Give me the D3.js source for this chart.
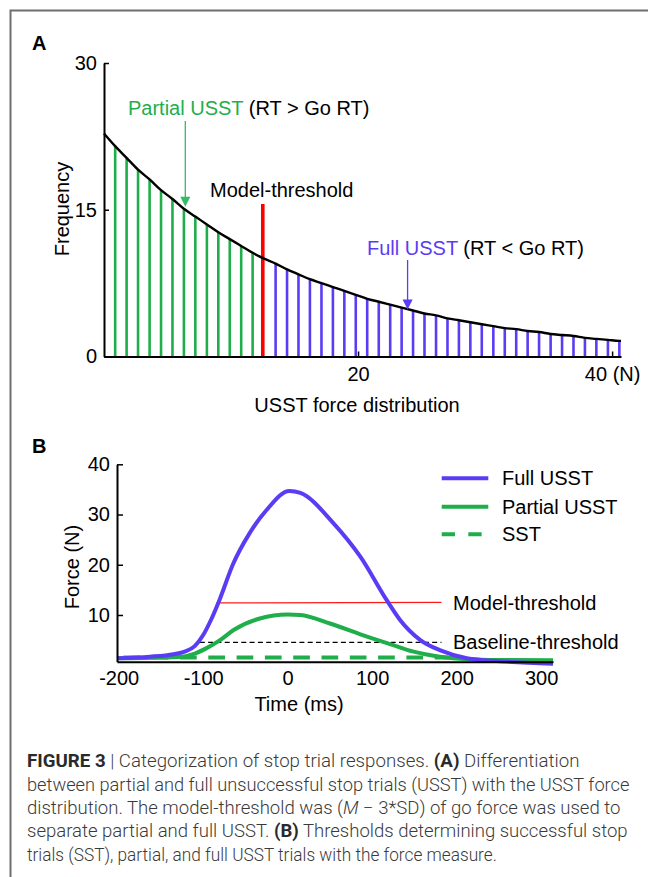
<!DOCTYPE html>
<html>
<head>
<meta charset="utf-8">
<script src="https://cdn.jsdelivr.net/npm/d3@7"></script>
<style>
  html, body { margin: 0; padding: 0; background: #fff; }
  svg text { font-family: "Liberation Sans", Arial, Helvetica, sans-serif; }
</style>
</head>
<body>
<svg id="fig" width="648" height="877"></svg>
<script>
// ---------- Panel A: USST force distribution ----------
const binForce = [0.88, 1.78, 2.68, 3.59, 4.49, 5.39, 6.29, 7.19, 8.10, 9.00, 9.90, 10.80, 11.70,
  13.51, 14.41, 15.31, 16.21, 17.12, 18.02, 18.92, 19.82, 20.72, 21.63, 22.53, 23.43, 24.33,
  25.23, 26.14, 27.04, 27.94, 28.84, 29.74, 30.65, 31.55, 32.45, 33.35, 34.25, 35.16, 36.06,
  36.96, 37.86, 38.76, 39.67, 40.57];
const binFreq = [21.5, 20.3, 19.1, 18.1, 17.0, 16.1, 15.1, 14.3, 13.5, 12.7, 12.0, 11.3, 10.6,
  9.5, 8.9, 8.4, 7.9, 7.5, 7.1, 6.7, 6.3, 5.9, 5.6, 5.3, 5.0, 4.7, 4.4, 4.2, 3.9, 3.7, 3.5,
  3.3, 3.1, 2.9, 2.8, 2.6, 2.5, 2.3, 2.2, 2.1, 1.9, 1.8, 1.7, 1.6];
const curveStart = [0, 22.8];
const curveAtThreshold = [12.6, 10.0];
const curveEnd = [40.7, 1.6];
const modelThresholdForce = 12.5;
const modelThresholdMarkTop = 15.6;
const freqTicks = [0, 15, 30];
const forceTicks = [20, 40];
const forceTickLabels = ["20", "40 (N)"];
const partialArrow = { force: 6.4, freq: 15.3 };
const fullArrow = { force: 23.9, freq: 4.8 };

// ---------- Panel B: force traces ----------
const fullTime  = [-202, -163, -135, -122, -110, -100, -90, -80, -65, -45, -25, 2, 15, 54, 86, 117, 133, 157, 180, 212, 251, 314];
const fullForce = [1.4, 1.7, 2.2, 2.7, 3.8, 6.0, 9.3, 13.3, 20.0, 26.3, 30.9, 34.7, 34.3, 28.3, 21.6, 13.0, 9.0, 5.0, 3.0, 1.4, 0.8, 0.3];
const partialTime  = [-202, -160, -125, -110, -96, -80, -64, -33, 0, 15, 50, 94, 125, 149, 180, 212, 250, 314];
const partialForce = [1.4, 1.5, 1.7, 2.3, 3.4, 5.0, 7.0, 9.3, 10.1, 10.0, 8.3, 5.7, 4.0, 2.7, 1.7, 1.2, 1.05, 1.0];
const sstTime = [-202, 190];
const sstForce = [1.55, 1.55];
const modelThrTime = [-84, 182];
const modelThrForce = [12.4, 12.5];
const baseThrTime = [-104, 182];
const baseThrForce = [4.56, 4.56];
const timeTicks = [-200, -100, 0, 100, 200, 300];
const forceTicksB = [10, 20, 30, 40];
const legendItems = ["Full USST", "Partial USST", "SST"];

const captionLines = [
  [["FIGURE 3", "b"], [" | Categorization of stop trial responses. ", ""], ["(A)", "b"], [" Differentiation", ""]],
  [["between partial and full unsuccessful stop trials (USST) with the USST force", ""]],
  [["distribution. The model-threshold was (", ""], ["M", "i"], [" \u2212 3*SD) of go force was used to", ""]],
  [["separate partial and full USST. ", ""], ["(B)", "b"], [" Thresholds determining successful stop", ""]],
  [["trials (SST), partial, and full USST trials with the force measure.", ""]]
];
const captionRight = [580, 630, 621, 628, 497];

const GREEN = "#1fae4a";
const BLUE = "#5a3cf4";
const RED = "#ff1a1a";

const svg = d3.select("#fig");

// frame
svg.append("path").attr("d", "M10.5,877V10.5H648")
  .attr("fill", "none").attr("stroke", "#6e6e6e").attr("stroke-width", 2);

// ===== Panel A =====
const xA = d3.scaleLinear().domain([0, 40.7]).range([104, 621]);
const yA = d3.scaleLinear().domain([0, 30]).range([356.5, 63]);
const gA = svg.append("g");

gA.append("text").attr("x", 32).attr("y", 50).attr("font-size", 20).attr("font-weight", "bold").text("A");

// bars
gA.selectAll("line.bin").data(binForce.map((f, i) => ({ f, v: binFreq[i] })))
  .join("line").attr("class", "bin")
  .attr("x1", d => xA(d.f)).attr("x2", d => xA(d.f))
  .attr("y1", yA(0)).attr("y2", d => yA(d.v))
  .attr("stroke", d => d.f < modelThresholdForce ? GREEN : BLUE)
  .attr("stroke-width", 2.6);

// threshold marker
gA.append("line")
  .attr("x1", xA(modelThresholdForce)).attr("x2", xA(modelThresholdForce))
  .attr("y1", yA(0)).attr("y2", yA(modelThresholdMarkTop))
  .attr("stroke", "#ff0000").attr("stroke-width", 3.6);

// distribution curve
const curvePts = [curveStart].concat(
  binForce.map((f, i) => [f, binFreq[i]]).filter(p => p[0] < curveAtThreshold[0]),
  [curveAtThreshold],
  binForce.map((f, i) => [f, binFreq[i]]).filter(p => p[0] > curveAtThreshold[0]),
  [curveEnd]);
gA.append("path").datum(curvePts)
  .attr("d", d3.line().x(d => xA(d[0])).y(d => yA(d[1])).curve(d3.curveMonotoneX))
  .attr("fill", "none").attr("stroke", "#000").attr("stroke-width", 2.4);

// axes
const axA_y = gA.append("g").attr("transform", `translate(${xA(0)},0)`)
  .call(d3.axisLeft(yA).tickValues(freqTicks).tickSizeInner(-5).tickSizeOuter(0).tickPadding(7));
const axA_x = gA.append("g").attr("transform", `translate(0,${yA(0)})`)
  .call(d3.axisBottom(xA).tickValues(forceTicks).tickFormat((d, i) => forceTickLabels[i])
    .tickSizeInner(-5).tickSizeOuter(0).tickPadding(10));
[axA_y, axA_x].forEach(a => {
  a.select(".domain").attr("stroke", "#000").attr("stroke-width", 2);
  a.selectAll(".tick line").attr("stroke", "#000").attr("stroke-width", 1.5);
  a.selectAll(".tick text").attr("font-size", 20).attr("fill", "#000")
    .attr("font-family", "'Liberation Sans', Arial, sans-serif");
});

gA.append("text").attr("transform", "translate(69,209) rotate(-90)")
  .attr("text-anchor", "middle").attr("font-size", 20).text("Frequency");
gA.append("text").attr("x", 357).attr("y", 412)
  .attr("text-anchor", "middle").attr("font-size", 20).text("USST force distribution");

// annotations
const tP = gA.append("text").attr("x", 128).attr("y", 115).attr("font-size", 20);
tP.append("tspan").attr("fill", GREEN).text("Partial USST");
tP.append("tspan").attr("fill", "#000").text(" (RT > Go RT)");
const tF = gA.append("text").attr("x", 367).attr("y", 255).attr("font-size", 20);
tF.append("tspan").attr("fill", BLUE).text("Full USST");
tF.append("tspan").attr("fill", "#000").text(" (RT < Go RT)");
gA.append("text").attr("x", 210).attr("y", 197).attr("font-size", 20).text("Model-threshold");

function arrow(g, x, yTail, yTip, color) {
  g.append("line").attr("x1", x).attr("x2", x).attr("y1", yTail).attr("y2", yTip - 8)
    .attr("stroke", color).attr("stroke-width", 1.3);
  g.append("path").attr("d", `M${x - 5},${yTip - 10}L${x + 5},${yTip - 10}L${x},${yTip}Z`).attr("fill", color);
}
arrow(gA, xA(partialArrow.force), 121, yA(partialArrow.freq), "#33bb66");
arrow(gA, xA(fullArrow.force), 260, yA(fullArrow.freq), BLUE);

// ===== Panel B =====
const xB = d3.scaleLinear().domain([-202, 314]).range([117, 553]);
const yB = d3.scaleLinear().domain([0.7, 40]).range([661.7, 464.3]);
const gB = svg.append("g");
gB.append("text").attr("x", 32).attr("y", 453).attr("font-size", 20).attr("font-weight", "bold").text("B");

const lineB = d3.line().x(d => xB(d[0])).y(d => yB(d[1]));
const zip = (a, b) => a.map((v, i) => [v, b[i]]);

// thresholds
gB.append("path").datum(zip(modelThrTime, modelThrForce)).attr("d", lineB)
  .attr("stroke", RED).attr("stroke-width", 1.3).attr("fill", "none");
gB.append("path").datum(zip(baseThrTime, baseThrForce)).attr("d", lineB)
  .attr("stroke", "#000").attr("stroke-width", 1.3).attr("stroke-dasharray", "5 3.3").attr("fill", "none");

// SST dashed trace
gB.append("path").datum(zip(sstTime, sstForce)).attr("d", lineB)
  .attr("stroke", GREEN).attr("stroke-width", 4).attr("stroke-dasharray", "16.7 11.6")
  .attr("stroke-dashoffset", 21.9).attr("fill", "none");

// force traces
const smooth = d3.line().x(d => xB(d[0])).y(d => yB(d[1])).curve(d3.curveMonotoneX);
gB.append("path").datum(zip(partialTime, partialForce)).attr("d", smooth)
  .attr("stroke", GREEN).attr("stroke-width", 4).attr("fill", "none").attr("stroke-linecap", "butt");
gB.append("path").datum(zip(fullTime, fullForce)).attr("d", smooth)
  .attr("stroke", BLUE).attr("stroke-width", 4).attr("fill", "none");

// axes
const axB_y = gB.append("g").attr("transform", `translate(${xB.range()[0]},0)`)
  .call(d3.axisLeft(yB).tickValues(forceTicksB).tickSizeInner(-6).tickSizeOuter(0).tickPadding(7));
const axB_x = gB.append("g").attr("transform", `translate(0,${yB.range()[0]})`)
  .call(d3.axisBottom(xB).tickValues(timeTicks).tickFormat(d => String(d))
    .tickSizeInner(0).tickSizeOuter(0).tickPadding(9));
[axB_y, axB_x].forEach(a => {
  a.select(".domain").attr("stroke", "#000").attr("stroke-width", 2);
  a.selectAll(".tick line").attr("stroke", "#000").attr("stroke-width", 1.5);
  a.selectAll(".tick text").attr("font-size", 20).attr("fill", "#000")
    .attr("font-family", "'Liberation Sans', Arial, sans-serif");
});

gB.append("text").attr("transform", "translate(79,567) rotate(-90)")
  .attr("text-anchor", "middle").attr("font-size", 20).text("Force (N)");
gB.append("text").attr("x", 299).attr("y", 711)
  .attr("text-anchor", "middle").attr("font-size", 20).text("Time (ms)");

gB.append("text").attr("x", 453).attr("y", 610).attr("font-size", 20).text("Model-threshold");
gB.append("text").attr("x", 453).attr("y", 649).attr("font-size", 20).text("Baseline-threshold");

// legend
const legY = [478.3, 506.7, 534.3];
const legStyles = [
  { c: BLUE, dash: null },
  { c: GREEN, dash: null },
  { c: GREEN, dash: "13.3 13.3" }
];
legendItems.forEach((name, i) => {
  const ln = gB.append("line").attr("x1", 441.7).attr("x2", 488.3).attr("y1", legY[i]).attr("y2", legY[i])
    .attr("stroke", legStyles[i].c).attr("stroke-width", 4);
  if (legStyles[i].dash) ln.attr("stroke-dasharray", legStyles[i].dash);
  gB.append("text").attr("x", 502).attr("y", legY[i] + 7).attr("font-size", 20).text(name);
});

// ===== Caption =====
const capY = [767, 791, 814, 837, 861];
captionLines.forEach((parts, i) => {
  const t = svg.append("text").attr("x", 27).attr("y", capY[i])
    .attr("font-size", 17.5).attr("fill", "#3a3a3a")
    .style("font-family", "Roboto, 'Liberation Sans', sans-serif").attr("font-weight", 300);
  parts.forEach(([s, st]) => {
    const sp = t.append("tspan").text(s);
    if (st === "b") sp.attr("font-weight", 700).attr("fill", "#2a2a2a");
    if (st === "i") sp.attr("font-style", "italic");
  });
  const w = t.node().getComputedTextLength();
  const sx = (captionRight[i] - 27) / w;
  t.attr("transform", `translate(27,0) scale(${sx},1) translate(-27,0)`);
});
</script>
</body>
</html>
